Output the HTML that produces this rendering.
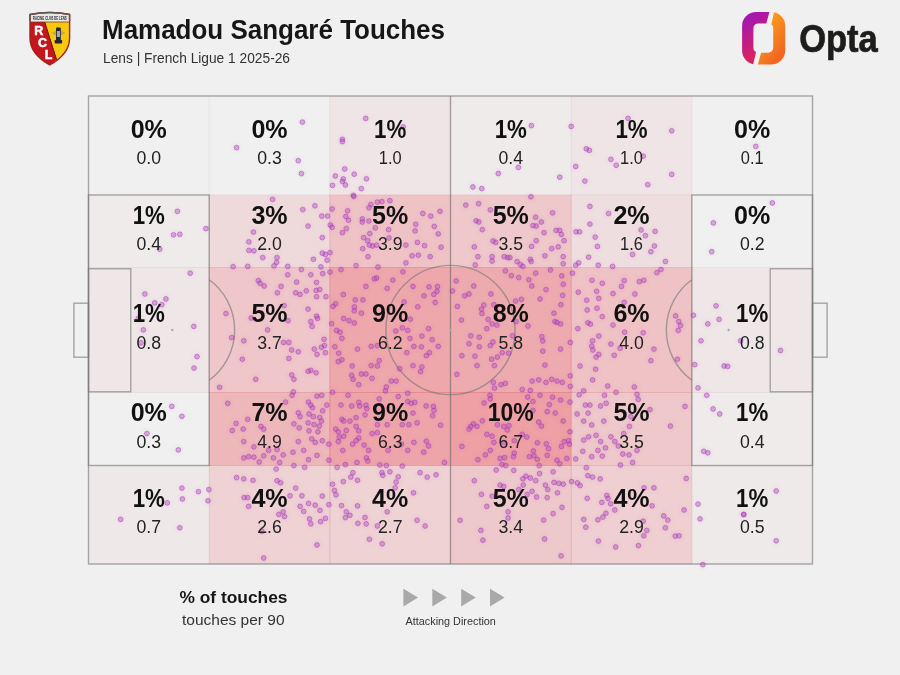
<!DOCTYPE html>
<html lang="en"><head><meta charset="utf-8"><title>Mamadou Sangaré Touches</title>
<style>
html,body{margin:0;padding:0;background:#f0f0f0;}
body{width:900px;height:675px;overflow:hidden;font-family:"Liberation Sans",sans-serif;}
svg{display:block}
text{font-family:"Liberation Sans",sans-serif;}
.pct{font-weight:700;font-size:25.5px;fill:#111;text-anchor:middle}
.val{font-size:17.5px;fill:#222;text-anchor:middle}
.ln{fill:none;stroke:rgba(120,120,120,0.62);stroke-width:1.4}
.d{fill:rgba(186,68,196,0.38);stroke:rgba(155,55,172,0.46);stroke-width:1}
</style></head><body>
<svg width="900" height="675" viewBox="0 0 900 675">
<rect width="900" height="675" fill="#f0f0f0"/>

<g id="cells">
<rect x="88.2" y="95.7" width="121.3" height="99.6" fill="none"/>
<rect x="208.9" y="95.7" width="121.3" height="99.6" fill="none"/>
<rect x="329.5" y="95.7" width="121.3" height="99.6" fill="rgba(236,80,90,0.068)"/>
<rect x="450.2" y="95.7" width="121.3" height="99.6" fill="rgba(236,80,90,0.031)"/>
<rect x="570.9" y="95.7" width="121.3" height="99.6" fill="rgba(236,80,90,0.068)"/>
<rect x="691.5" y="95.7" width="121.3" height="99.6" fill="none"/>
<rect x="88.2" y="194.7" width="121.3" height="73.1" fill="rgba(236,80,90,0.031)"/>
<rect x="208.9" y="194.7" width="121.3" height="73.1" fill="rgba(236,80,90,0.137)"/>
<rect x="329.5" y="194.7" width="121.3" height="73.1" fill="rgba(236,80,90,0.277)"/>
<rect x="450.2" y="194.7" width="121.3" height="73.1" fill="rgba(236,80,90,0.247)"/>
<rect x="570.9" y="194.7" width="121.3" height="73.1" fill="rgba(236,80,90,0.109)"/>
<rect x="691.5" y="194.7" width="121.3" height="73.1" fill="none"/>
<rect x="88.2" y="267.2" width="121.3" height="125.6" fill="rgba(236,80,90,0.055)"/>
<rect x="208.9" y="267.2" width="121.3" height="125.6" fill="rgba(236,80,90,0.262)"/>
<rect x="329.5" y="267.2" width="121.3" height="125.6" fill="rgba(236,80,90,0.459)"/>
<rect x="450.2" y="267.2" width="121.3" height="125.6" fill="rgba(236,80,90,0.427)"/>
<rect x="570.9" y="267.2" width="121.3" height="125.6" fill="rgba(236,80,90,0.285)"/>
<rect x="691.5" y="267.2" width="121.3" height="125.6" fill="rgba(236,80,90,0.055)"/>
<rect x="88.2" y="392.2" width="121.3" height="73.6" fill="none"/>
<rect x="208.9" y="392.2" width="121.3" height="73.6" fill="rgba(236,80,90,0.355)"/>
<rect x="329.5" y="392.2" width="121.3" height="73.6" fill="rgba(236,80,90,0.467)"/>
<rect x="450.2" y="392.2" width="121.3" height="73.6" fill="rgba(236,80,90,0.500)"/>
<rect x="570.9" y="392.2" width="121.3" height="73.6" fill="rgba(236,80,90,0.247)"/>
<rect x="691.5" y="392.2" width="121.3" height="73.6" fill="rgba(236,80,90,0.031)"/>
<rect x="88.2" y="465.2" width="121.3" height="99.1" fill="rgba(236,80,90,0.049)"/>
<rect x="208.9" y="465.2" width="121.3" height="99.1" fill="rgba(236,80,90,0.180)"/>
<rect x="329.5" y="465.2" width="121.3" height="99.1" fill="rgba(236,80,90,0.187)"/>
<rect x="450.2" y="465.2" width="121.3" height="99.1" fill="rgba(236,80,90,0.239)"/>
<rect x="570.9" y="465.2" width="121.3" height="99.1" fill="rgba(236,80,90,0.202)"/>
<rect x="691.5" y="465.2" width="121.3" height="99.1" fill="rgba(236,80,90,0.037)"/>
</g>
<g stroke="rgba(110,70,80,0.05)" stroke-width="1.2">
<line x1="209.2" y1="96.0" x2="209.2" y2="564.0"/>
<line x1="329.8" y1="96.0" x2="329.8" y2="564.0"/>
<line x1="450.5" y1="96.0" x2="450.5" y2="564.0"/>
<line x1="571.2" y1="96.0" x2="571.2" y2="564.0"/>
<line x1="691.8" y1="96.0" x2="691.8" y2="564.0"/>
<line x1="88.5" y1="195.0" x2="812.5" y2="195.0"/>
<line x1="88.5" y1="267.5" x2="812.5" y2="267.5"/>
<line x1="88.5" y1="392.5" x2="812.5" y2="392.5"/>
<line x1="88.5" y1="465.5" x2="812.5" y2="465.5"/>
</g>
<g class="ln">
<rect x="88.5" y="96.0" width="724.0" height="468.0"/>
<line x1="450.5" y1="96.0" x2="450.5" y2="564.0"/>
<circle cx="450.5" cy="330.0" r="64.6"/>
<rect x="88.5" y="195.0" width="120.7" height="270.5"/>
<rect x="88.5" y="268.7" width="42.3" height="123.1"/>
<rect x="73.9" y="303.2" width="14.6" height="54"/>
<path d="M209.2 279.7 A62.4 62.4 0 0 1 209.2 380.3"/>
<rect x="691.8" y="195.0" width="120.7" height="270.5"/>
<rect x="770.2" y="268.7" width="42.3" height="123.1"/>
<rect x="812.5" y="303.2" width="14.6" height="54"/>
<path d="M691.8 279.7 A62.4 62.4 0 0 0 691.8 380.3"/>
</g>
<circle cx="172.3" cy="330.0" r="1.2" fill="#aaa"/><circle cx="728.7" cy="330.0" r="1.2" fill="#aaa"/><circle cx="450.5" cy="330.0" r="1.2" fill="#aaa"/>
<defs><filter id="bl" x="-5%" y="-5%" width="110%" height="110%"><feGaussianBlur stdDeviation="2.2"/></filter></defs>
<use href="#dots" filter="url(#bl)" opacity="0.35"/>
<g class="d" id="dots">
<circle cx="236.6" cy="147.7" r="2.4"/>
<circle cx="177.4" cy="211.3" r="2.4"/>
<circle cx="302.4" cy="122.1" r="2.4"/>
<circle cx="298.3" cy="160.7" r="2.4"/>
<circle cx="301.4" cy="173.6" r="2.4"/>
<circle cx="365.7" cy="118.4" r="2.4"/>
<circle cx="342.4" cy="139.3" r="2.4"/>
<circle cx="342.4" cy="141.6" r="2.4"/>
<circle cx="344.7" cy="169.0" r="2.4"/>
<circle cx="354.2" cy="174.2" r="2.4"/>
<circle cx="335.3" cy="176.0" r="2.4"/>
<circle cx="366.4" cy="178.8" r="2.4"/>
<circle cx="343.3" cy="179.0" r="2.4"/>
<circle cx="342.4" cy="181.5" r="2.4"/>
<circle cx="345.4" cy="185.0" r="2.4"/>
<circle cx="332.5" cy="185.4" r="2.4"/>
<circle cx="361.3" cy="188.6" r="2.4"/>
<circle cx="353.4" cy="195.3" r="2.4"/>
<circle cx="353.8" cy="196.4" r="2.4"/>
<circle cx="272.6" cy="199.4" r="2.4"/>
<circle cx="314.9" cy="205.8" r="2.4"/>
<circle cx="302.8" cy="209.6" r="2.4"/>
<circle cx="332.1" cy="209.0" r="2.4"/>
<circle cx="347.6" cy="210.8" r="2.4"/>
<circle cx="389.9" cy="200.7" r="2.4"/>
<circle cx="381.9" cy="201.6" r="2.4"/>
<circle cx="377.4" cy="202.1" r="2.4"/>
<circle cx="370.9" cy="204.6" r="2.4"/>
<circle cx="368.9" cy="207.8" r="2.4"/>
<circle cx="403.2" cy="126.9" r="2.4"/>
<circle cx="531.4" cy="125.6" r="2.4"/>
<circle cx="518.4" cy="167.4" r="2.4"/>
<circle cx="498.3" cy="173.5" r="2.4"/>
<circle cx="559.8" cy="177.2" r="2.4"/>
<circle cx="472.9" cy="187.0" r="2.4"/>
<circle cx="481.8" cy="188.6" r="2.4"/>
<circle cx="530.9" cy="196.8" r="2.4"/>
<circle cx="465.8" cy="205.1" r="2.4"/>
<circle cx="478.6" cy="203.7" r="2.4"/>
<circle cx="490.3" cy="209.9" r="2.4"/>
<circle cx="440.0" cy="211.3" r="2.4"/>
<circle cx="422.8" cy="213.5" r="2.4"/>
<circle cx="552.6" cy="212.8" r="2.4"/>
<circle cx="571.2" cy="126.4" r="2.4"/>
<circle cx="628.1" cy="118.4" r="2.4"/>
<circle cx="671.7" cy="130.8" r="2.4"/>
<circle cx="586.3" cy="148.8" r="2.4"/>
<circle cx="589.4" cy="150.4" r="2.4"/>
<circle cx="643.2" cy="156.2" r="2.4"/>
<circle cx="610.9" cy="159.4" r="2.4"/>
<circle cx="616.2" cy="165.3" r="2.4"/>
<circle cx="575.7" cy="166.5" r="2.4"/>
<circle cx="671.7" cy="174.4" r="2.4"/>
<circle cx="584.9" cy="181.1" r="2.4"/>
<circle cx="647.8" cy="184.7" r="2.4"/>
<circle cx="589.9" cy="206.4" r="2.4"/>
<circle cx="608.6" cy="213.5" r="2.4"/>
<circle cx="755.8" cy="146.4" r="2.4"/>
<circle cx="772.3" cy="203.0" r="2.4"/>
<circle cx="205.9" cy="228.6" r="2.4"/>
<circle cx="173.5" cy="234.8" r="2.4"/>
<circle cx="179.8" cy="234.3" r="2.4"/>
<circle cx="159.7" cy="249.2" r="2.4"/>
<circle cx="233.1" cy="266.6" r="2.4"/>
<circle cx="190.2" cy="273.2" r="2.4"/>
<circle cx="144.9" cy="294.0" r="2.4"/>
<circle cx="165.9" cy="299.0" r="2.4"/>
<circle cx="154.7" cy="302.9" r="2.4"/>
<circle cx="161.8" cy="304.7" r="2.4"/>
<circle cx="226.0" cy="313.6" r="2.4"/>
<circle cx="193.8" cy="326.4" r="2.4"/>
<circle cx="143.3" cy="329.9" r="2.4"/>
<circle cx="138.3" cy="318.5" r="2.4"/>
<circle cx="321.8" cy="216.1" r="2.4"/>
<circle cx="327.5" cy="216.1" r="2.4"/>
<circle cx="345.8" cy="216.5" r="2.4"/>
<circle cx="348.5" cy="220.2" r="2.4"/>
<circle cx="362.3" cy="219.0" r="2.4"/>
<circle cx="362.3" cy="222.0" r="2.4"/>
<circle cx="368.9" cy="221.1" r="2.4"/>
<circle cx="308.1" cy="226.1" r="2.4"/>
<circle cx="330.3" cy="225.0" r="2.4"/>
<circle cx="332.1" cy="227.3" r="2.4"/>
<circle cx="346.3" cy="228.6" r="2.4"/>
<circle cx="342.4" cy="232.7" r="2.4"/>
<circle cx="375.3" cy="227.9" r="2.4"/>
<circle cx="388.6" cy="229.6" r="2.4"/>
<circle cx="253.4" cy="232.1" r="2.4"/>
<circle cx="369.8" cy="233.6" r="2.4"/>
<circle cx="322.3" cy="237.6" r="2.4"/>
<circle cx="363.6" cy="237.6" r="2.4"/>
<circle cx="367.7" cy="240.7" r="2.4"/>
<circle cx="389.0" cy="238.0" r="2.4"/>
<circle cx="248.9" cy="241.9" r="2.4"/>
<circle cx="369.4" cy="245.1" r="2.4"/>
<circle cx="372.6" cy="246.0" r="2.4"/>
<circle cx="376.6" cy="245.1" r="2.4"/>
<circle cx="362.7" cy="248.7" r="2.4"/>
<circle cx="248.9" cy="250.4" r="2.4"/>
<circle cx="253.9" cy="250.8" r="2.4"/>
<circle cx="322.3" cy="253.1" r="2.4"/>
<circle cx="325.4" cy="254.5" r="2.4"/>
<circle cx="330.0" cy="252.6" r="2.4"/>
<circle cx="262.8" cy="257.6" r="2.4"/>
<circle cx="277.0" cy="257.6" r="2.4"/>
<circle cx="313.4" cy="259.3" r="2.4"/>
<circle cx="327.1" cy="260.2" r="2.4"/>
<circle cx="368.0" cy="256.7" r="2.4"/>
<circle cx="276.6" cy="262.4" r="2.4"/>
<circle cx="274.0" cy="265.9" r="2.4"/>
<circle cx="247.7" cy="266.4" r="2.4"/>
<circle cx="287.7" cy="266.4" r="2.4"/>
<circle cx="356.1" cy="265.6" r="2.4"/>
<circle cx="378.0" cy="267.0" r="2.4"/>
<circle cx="320.9" cy="266.8" r="2.4"/>
<circle cx="301.4" cy="269.5" r="2.4"/>
<circle cx="330.0" cy="272.1" r="2.4"/>
<circle cx="341.0" cy="269.6" r="2.4"/>
<circle cx="322.7" cy="273.6" r="2.4"/>
<circle cx="287.7" cy="274.8" r="2.4"/>
<circle cx="310.8" cy="274.8" r="2.4"/>
<circle cx="402.9" cy="271.8" r="2.4"/>
<circle cx="258.3" cy="280.7" r="2.4"/>
<circle cx="260.1" cy="283.3" r="2.4"/>
<circle cx="264.2" cy="286.0" r="2.4"/>
<circle cx="296.6" cy="282.1" r="2.4"/>
<circle cx="316.5" cy="282.4" r="2.4"/>
<circle cx="376.6" cy="278.0" r="2.4"/>
<circle cx="374.4" cy="278.9" r="2.4"/>
<circle cx="392.9" cy="280.1" r="2.4"/>
<circle cx="281.1" cy="286.4" r="2.4"/>
<circle cx="365.9" cy="286.4" r="2.4"/>
<circle cx="387.2" cy="288.3" r="2.4"/>
<circle cx="306.3" cy="290.8" r="2.4"/>
<circle cx="277.4" cy="292.8" r="2.4"/>
<circle cx="295.7" cy="292.8" r="2.4"/>
<circle cx="300.1" cy="294.4" r="2.4"/>
<circle cx="316.1" cy="290.4" r="2.4"/>
<circle cx="319.7" cy="289.6" r="2.4"/>
<circle cx="316.6" cy="296.7" r="2.4"/>
<circle cx="325.9" cy="296.7" r="2.4"/>
<circle cx="343.3" cy="294.5" r="2.4"/>
<circle cx="355.2" cy="299.9" r="2.4"/>
<circle cx="362.9" cy="299.9" r="2.4"/>
<circle cx="335.7" cy="303.8" r="2.4"/>
<circle cx="333.0" cy="306.4" r="2.4"/>
<circle cx="354.3" cy="307.0" r="2.4"/>
<circle cx="354.3" cy="310.9" r="2.4"/>
<circle cx="308.1" cy="309.1" r="2.4"/>
<circle cx="361.4" cy="313.2" r="2.4"/>
<circle cx="404.1" cy="302.0" r="2.4"/>
<circle cx="316.6" cy="316.2" r="2.4"/>
<circle cx="317.5" cy="318.4" r="2.4"/>
<circle cx="343.7" cy="318.5" r="2.4"/>
<circle cx="349.0" cy="320.7" r="2.4"/>
<circle cx="354.3" cy="323.0" r="2.4"/>
<circle cx="310.8" cy="321.6" r="2.4"/>
<circle cx="312.2" cy="326.4" r="2.4"/>
<circle cx="331.6" cy="323.7" r="2.4"/>
<circle cx="288.0" cy="320.7" r="2.4"/>
<circle cx="251.2" cy="318.0" r="2.4"/>
<circle cx="267.6" cy="329.9" r="2.4"/>
<circle cx="336.6" cy="330.4" r="2.4"/>
<circle cx="340.1" cy="332.2" r="2.4"/>
<circle cx="395.8" cy="331.0" r="2.4"/>
<circle cx="402.3" cy="327.8" r="2.4"/>
<circle cx="284.1" cy="305.6" r="2.4"/>
<circle cx="430.8" cy="216.1" r="2.4"/>
<circle cx="535.7" cy="217.2" r="2.4"/>
<circle cx="476.1" cy="220.8" r="2.4"/>
<circle cx="478.8" cy="222.0" r="2.4"/>
<circle cx="541.4" cy="222.0" r="2.4"/>
<circle cx="415.7" cy="224.3" r="2.4"/>
<circle cx="434.3" cy="226.4" r="2.4"/>
<circle cx="533.0" cy="225.6" r="2.4"/>
<circle cx="536.2" cy="226.1" r="2.4"/>
<circle cx="415.1" cy="230.9" r="2.4"/>
<circle cx="482.3" cy="229.6" r="2.4"/>
<circle cx="438.2" cy="233.9" r="2.4"/>
<circle cx="544.0" cy="232.7" r="2.4"/>
<circle cx="556.1" cy="230.4" r="2.4"/>
<circle cx="559.7" cy="230.4" r="2.4"/>
<circle cx="561.4" cy="234.4" r="2.4"/>
<circle cx="417.4" cy="242.4" r="2.4"/>
<circle cx="493.0" cy="241.0" r="2.4"/>
<circle cx="495.7" cy="242.4" r="2.4"/>
<circle cx="536.2" cy="240.7" r="2.4"/>
<circle cx="564.1" cy="240.7" r="2.4"/>
<circle cx="405.9" cy="245.1" r="2.4"/>
<circle cx="424.6" cy="245.6" r="2.4"/>
<circle cx="474.3" cy="246.9" r="2.4"/>
<circle cx="441.1" cy="247.2" r="2.4"/>
<circle cx="531.6" cy="246.4" r="2.4"/>
<circle cx="551.7" cy="248.7" r="2.4"/>
<circle cx="558.2" cy="246.9" r="2.4"/>
<circle cx="412.1" cy="255.8" r="2.4"/>
<circle cx="418.3" cy="255.2" r="2.4"/>
<circle cx="430.2" cy="256.7" r="2.4"/>
<circle cx="477.9" cy="256.7" r="2.4"/>
<circle cx="492.1" cy="256.7" r="2.4"/>
<circle cx="492.1" cy="261.1" r="2.4"/>
<circle cx="504.2" cy="256.7" r="2.4"/>
<circle cx="507.8" cy="257.6" r="2.4"/>
<circle cx="509.9" cy="257.6" r="2.4"/>
<circle cx="544.9" cy="255.8" r="2.4"/>
<circle cx="530.3" cy="259.3" r="2.4"/>
<circle cx="531.2" cy="261.6" r="2.4"/>
<circle cx="517.0" cy="261.6" r="2.4"/>
<circle cx="520.6" cy="264.7" r="2.4"/>
<circle cx="522.9" cy="266.4" r="2.4"/>
<circle cx="563.2" cy="256.7" r="2.4"/>
<circle cx="563.2" cy="263.8" r="2.4"/>
<circle cx="475.2" cy="265.0" r="2.4"/>
<circle cx="405.9" cy="262.9" r="2.4"/>
<circle cx="505.4" cy="270.9" r="2.4"/>
<circle cx="511.3" cy="275.7" r="2.4"/>
<circle cx="518.8" cy="277.6" r="2.4"/>
<circle cx="535.7" cy="273.2" r="2.4"/>
<circle cx="550.4" cy="270.0" r="2.4"/>
<circle cx="561.8" cy="275.9" r="2.4"/>
<circle cx="528.9" cy="279.8" r="2.4"/>
<circle cx="531.8" cy="286.0" r="2.4"/>
<circle cx="456.2" cy="281.0" r="2.4"/>
<circle cx="473.8" cy="286.0" r="2.4"/>
<circle cx="413.0" cy="286.5" r="2.4"/>
<circle cx="429.0" cy="286.9" r="2.4"/>
<circle cx="437.5" cy="286.5" r="2.4"/>
<circle cx="437.0" cy="291.3" r="2.4"/>
<circle cx="433.8" cy="294.4" r="2.4"/>
<circle cx="424.0" cy="295.8" r="2.4"/>
<circle cx="452.6" cy="291.0" r="2.4"/>
<circle cx="469.0" cy="294.0" r="2.4"/>
<circle cx="464.6" cy="295.8" r="2.4"/>
<circle cx="490.9" cy="294.0" r="2.4"/>
<circle cx="546.0" cy="289.6" r="2.4"/>
<circle cx="563.2" cy="284.2" r="2.4"/>
<circle cx="562.7" cy="295.4" r="2.4"/>
<circle cx="540.1" cy="299.0" r="2.4"/>
<circle cx="521.4" cy="299.3" r="2.4"/>
<circle cx="515.6" cy="301.1" r="2.4"/>
<circle cx="435.2" cy="302.5" r="2.4"/>
<circle cx="417.8" cy="306.8" r="2.4"/>
<circle cx="457.4" cy="306.4" r="2.4"/>
<circle cx="483.8" cy="305.0" r="2.4"/>
<circle cx="481.4" cy="309.1" r="2.4"/>
<circle cx="482.0" cy="313.6" r="2.4"/>
<circle cx="493.9" cy="304.7" r="2.4"/>
<circle cx="560.9" cy="304.7" r="2.4"/>
<circle cx="554.0" cy="313.2" r="2.4"/>
<circle cx="554.9" cy="321.6" r="2.4"/>
<circle cx="557.0" cy="322.4" r="2.4"/>
<circle cx="560.6" cy="323.9" r="2.4"/>
<circle cx="410.3" cy="319.2" r="2.4"/>
<circle cx="461.4" cy="320.1" r="2.4"/>
<circle cx="488.2" cy="319.4" r="2.4"/>
<circle cx="492.1" cy="323.9" r="2.4"/>
<circle cx="496.9" cy="325.1" r="2.4"/>
<circle cx="486.8" cy="328.7" r="2.4"/>
<circle cx="428.6" cy="328.7" r="2.4"/>
<circle cx="528.0" cy="326.0" r="2.4"/>
<circle cx="516.1" cy="321.6" r="2.4"/>
<circle cx="407.7" cy="330.4" r="2.4"/>
<circle cx="589.9" cy="224.1" r="2.4"/>
<circle cx="713.4" cy="222.9" r="2.4"/>
<circle cx="576.0" cy="231.8" r="2.4"/>
<circle cx="579.6" cy="231.8" r="2.4"/>
<circle cx="641.1" cy="230.0" r="2.4"/>
<circle cx="655.1" cy="231.4" r="2.4"/>
<circle cx="595.2" cy="237.1" r="2.4"/>
<circle cx="645.4" cy="235.7" r="2.4"/>
<circle cx="597.4" cy="246.5" r="2.4"/>
<circle cx="654.4" cy="246.0" r="2.4"/>
<circle cx="650.9" cy="251.7" r="2.4"/>
<circle cx="711.7" cy="251.7" r="2.4"/>
<circle cx="632.6" cy="254.5" r="2.4"/>
<circle cx="588.6" cy="257.2" r="2.4"/>
<circle cx="665.4" cy="261.5" r="2.4"/>
<circle cx="578.7" cy="262.9" r="2.4"/>
<circle cx="575.7" cy="265.2" r="2.4"/>
<circle cx="598.2" cy="265.2" r="2.4"/>
<circle cx="612.6" cy="266.4" r="2.4"/>
<circle cx="572.5" cy="273.2" r="2.4"/>
<circle cx="661.0" cy="269.5" r="2.4"/>
<circle cx="656.9" cy="272.7" r="2.4"/>
<circle cx="592.0" cy="280.3" r="2.4"/>
<circle cx="602.3" cy="283.3" r="2.4"/>
<circle cx="624.2" cy="280.7" r="2.4"/>
<circle cx="621.5" cy="286.4" r="2.4"/>
<circle cx="639.3" cy="281.6" r="2.4"/>
<circle cx="643.8" cy="280.3" r="2.4"/>
<circle cx="578.3" cy="292.2" r="2.4"/>
<circle cx="596.6" cy="291.3" r="2.4"/>
<circle cx="613.0" cy="293.6" r="2.4"/>
<circle cx="634.9" cy="294.0" r="2.4"/>
<circle cx="598.8" cy="298.4" r="2.4"/>
<circle cx="586.7" cy="300.2" r="2.4"/>
<circle cx="624.2" cy="302.4" r="2.4"/>
<circle cx="597.0" cy="308.2" r="2.4"/>
<circle cx="587.2" cy="310.0" r="2.4"/>
<circle cx="602.3" cy="316.6" r="2.4"/>
<circle cx="716.1" cy="305.9" r="2.4"/>
<circle cx="675.6" cy="315.9" r="2.4"/>
<circle cx="693.4" cy="315.3" r="2.4"/>
<circle cx="678.8" cy="321.6" r="2.4"/>
<circle cx="680.6" cy="325.6" r="2.4"/>
<circle cx="678.2" cy="330.4" r="2.4"/>
<circle cx="719.1" cy="319.4" r="2.4"/>
<circle cx="707.8" cy="323.9" r="2.4"/>
<circle cx="587.8" cy="322.8" r="2.4"/>
<circle cx="590.4" cy="324.2" r="2.4"/>
<circle cx="613.0" cy="325.1" r="2.4"/>
<circle cx="577.8" cy="328.7" r="2.4"/>
<circle cx="624.6" cy="332.2" r="2.4"/>
<circle cx="643.2" cy="332.8" r="2.4"/>
<circle cx="231.7" cy="337.6" r="2.4"/>
<circle cx="243.8" cy="340.8" r="2.4"/>
<circle cx="141.0" cy="342.9" r="2.4"/>
<circle cx="197.0" cy="356.6" r="2.4"/>
<circle cx="194.0" cy="368.1" r="2.4"/>
<circle cx="242.3" cy="359.2" r="2.4"/>
<circle cx="219.6" cy="387.3" r="2.4"/>
<circle cx="227.8" cy="403.3" r="2.4"/>
<circle cx="171.8" cy="406.4" r="2.4"/>
<circle cx="181.9" cy="416.3" r="2.4"/>
<circle cx="236.1" cy="423.4" r="2.4"/>
<circle cx="232.2" cy="430.5" r="2.4"/>
<circle cx="243.2" cy="429.1" r="2.4"/>
<circle cx="146.9" cy="433.6" r="2.4"/>
<circle cx="178.3" cy="449.9" r="2.4"/>
<circle cx="243.8" cy="441.6" r="2.4"/>
<circle cx="283.6" cy="342.5" r="2.4"/>
<circle cx="288.9" cy="342.5" r="2.4"/>
<circle cx="324.1" cy="339.3" r="2.4"/>
<circle cx="324.5" cy="345.6" r="2.4"/>
<circle cx="321.4" cy="347.3" r="2.4"/>
<circle cx="314.3" cy="349.1" r="2.4"/>
<circle cx="291.6" cy="350.0" r="2.4"/>
<circle cx="298.3" cy="351.8" r="2.4"/>
<circle cx="317.0" cy="354.4" r="2.4"/>
<circle cx="325.4" cy="352.7" r="2.4"/>
<circle cx="288.9" cy="358.4" r="2.4"/>
<circle cx="308.1" cy="371.3" r="2.4"/>
<circle cx="310.8" cy="370.4" r="2.4"/>
<circle cx="316.1" cy="372.8" r="2.4"/>
<circle cx="291.8" cy="374.9" r="2.4"/>
<circle cx="293.9" cy="379.3" r="2.4"/>
<circle cx="255.7" cy="379.3" r="2.4"/>
<circle cx="293.4" cy="391.8" r="2.4"/>
<circle cx="292.1" cy="395.3" r="2.4"/>
<circle cx="341.9" cy="338.4" r="2.4"/>
<circle cx="334.8" cy="346.8" r="2.4"/>
<circle cx="357.5" cy="349.1" r="2.4"/>
<circle cx="371.2" cy="346.4" r="2.4"/>
<circle cx="377.4" cy="345.6" r="2.4"/>
<circle cx="338.7" cy="353.2" r="2.4"/>
<circle cx="341.9" cy="359.8" r="2.4"/>
<circle cx="338.3" cy="361.6" r="2.4"/>
<circle cx="379.2" cy="360.7" r="2.4"/>
<circle cx="371.2" cy="365.6" r="2.4"/>
<circle cx="377.4" cy="366.0" r="2.4"/>
<circle cx="352.2" cy="366.0" r="2.4"/>
<circle cx="399.7" cy="368.7" r="2.4"/>
<circle cx="351.7" cy="375.2" r="2.4"/>
<circle cx="353.1" cy="379.3" r="2.4"/>
<circle cx="361.4" cy="374.0" r="2.4"/>
<circle cx="365.9" cy="374.0" r="2.4"/>
<circle cx="372.1" cy="378.4" r="2.4"/>
<circle cx="358.8" cy="384.7" r="2.4"/>
<circle cx="391.3" cy="381.1" r="2.4"/>
<circle cx="396.1" cy="381.1" r="2.4"/>
<circle cx="386.3" cy="387.0" r="2.4"/>
<circle cx="385.4" cy="390.9" r="2.4"/>
<circle cx="332.6" cy="392.3" r="2.4"/>
<circle cx="285.5" cy="402.1" r="2.4"/>
<circle cx="317.0" cy="396.2" r="2.4"/>
<circle cx="321.8" cy="395.3" r="2.4"/>
<circle cx="308.5" cy="402.1" r="2.4"/>
<circle cx="310.8" cy="405.1" r="2.4"/>
<circle cx="312.6" cy="407.8" r="2.4"/>
<circle cx="326.8" cy="405.1" r="2.4"/>
<circle cx="322.7" cy="410.8" r="2.4"/>
<circle cx="298.3" cy="412.8" r="2.4"/>
<circle cx="300.1" cy="416.7" r="2.4"/>
<circle cx="309.0" cy="414.0" r="2.4"/>
<circle cx="313.4" cy="416.7" r="2.4"/>
<circle cx="319.7" cy="417.6" r="2.4"/>
<circle cx="321.4" cy="421.1" r="2.4"/>
<circle cx="293.9" cy="423.8" r="2.4"/>
<circle cx="308.1" cy="422.9" r="2.4"/>
<circle cx="314.0" cy="424.7" r="2.4"/>
<circle cx="319.3" cy="426.1" r="2.4"/>
<circle cx="299.2" cy="427.9" r="2.4"/>
<circle cx="309.0" cy="430.9" r="2.4"/>
<circle cx="317.9" cy="431.8" r="2.4"/>
<circle cx="261.0" cy="426.4" r="2.4"/>
<circle cx="263.7" cy="429.1" r="2.4"/>
<circle cx="311.7" cy="438.9" r="2.4"/>
<circle cx="315.2" cy="442.4" r="2.4"/>
<circle cx="322.3" cy="440.7" r="2.4"/>
<circle cx="298.3" cy="441.6" r="2.4"/>
<circle cx="328.9" cy="444.2" r="2.4"/>
<circle cx="253.9" cy="446.9" r="2.4"/>
<circle cx="268.6" cy="450.4" r="2.4"/>
<circle cx="277.0" cy="449.6" r="2.4"/>
<circle cx="293.0" cy="452.2" r="2.4"/>
<circle cx="303.7" cy="450.4" r="2.4"/>
<circle cx="247.7" cy="419.3" r="2.4"/>
<circle cx="348.1" cy="395.3" r="2.4"/>
<circle cx="341.0" cy="405.1" r="2.4"/>
<circle cx="351.7" cy="406.0" r="2.4"/>
<circle cx="358.8" cy="402.4" r="2.4"/>
<circle cx="359.7" cy="406.0" r="2.4"/>
<circle cx="365.9" cy="405.1" r="2.4"/>
<circle cx="366.8" cy="408.7" r="2.4"/>
<circle cx="379.2" cy="398.9" r="2.4"/>
<circle cx="398.2" cy="396.6" r="2.4"/>
<circle cx="341.9" cy="419.3" r="2.4"/>
<circle cx="343.7" cy="421.1" r="2.4"/>
<circle cx="349.9" cy="421.1" r="2.4"/>
<circle cx="356.1" cy="417.6" r="2.4"/>
<circle cx="365.0" cy="414.9" r="2.4"/>
<circle cx="335.7" cy="429.1" r="2.4"/>
<circle cx="338.3" cy="431.8" r="2.4"/>
<circle cx="346.3" cy="430.5" r="2.4"/>
<circle cx="356.1" cy="426.4" r="2.4"/>
<circle cx="358.8" cy="430.9" r="2.4"/>
<circle cx="339.2" cy="437.1" r="2.4"/>
<circle cx="343.7" cy="436.2" r="2.4"/>
<circle cx="358.8" cy="438.0" r="2.4"/>
<circle cx="356.1" cy="440.7" r="2.4"/>
<circle cx="338.3" cy="441.6" r="2.4"/>
<circle cx="352.6" cy="444.2" r="2.4"/>
<circle cx="364.1" cy="445.1" r="2.4"/>
<circle cx="372.1" cy="433.6" r="2.4"/>
<circle cx="377.4" cy="432.7" r="2.4"/>
<circle cx="377.4" cy="424.7" r="2.4"/>
<circle cx="387.2" cy="424.7" r="2.4"/>
<circle cx="402.3" cy="424.7" r="2.4"/>
<circle cx="342.8" cy="450.4" r="2.4"/>
<circle cx="368.6" cy="450.4" r="2.4"/>
<circle cx="388.1" cy="450.4" r="2.4"/>
<circle cx="401.4" cy="444.2" r="2.4"/>
<circle cx="410.0" cy="338.4" r="2.4"/>
<circle cx="421.9" cy="336.1" r="2.4"/>
<circle cx="432.2" cy="339.7" r="2.4"/>
<circle cx="413.9" cy="346.4" r="2.4"/>
<circle cx="421.4" cy="346.8" r="2.4"/>
<circle cx="438.2" cy="346.4" r="2.4"/>
<circle cx="406.8" cy="352.7" r="2.4"/>
<circle cx="429.4" cy="352.7" r="2.4"/>
<circle cx="426.3" cy="355.7" r="2.4"/>
<circle cx="413.0" cy="365.6" r="2.4"/>
<circle cx="421.9" cy="366.9" r="2.4"/>
<circle cx="420.6" cy="371.7" r="2.4"/>
<circle cx="470.8" cy="335.8" r="2.4"/>
<circle cx="479.3" cy="337.2" r="2.4"/>
<circle cx="469.0" cy="343.8" r="2.4"/>
<circle cx="479.3" cy="346.8" r="2.4"/>
<circle cx="493.0" cy="342.0" r="2.4"/>
<circle cx="490.3" cy="345.6" r="2.4"/>
<circle cx="512.6" cy="335.8" r="2.4"/>
<circle cx="541.9" cy="336.7" r="2.4"/>
<circle cx="542.8" cy="341.1" r="2.4"/>
<circle cx="560.6" cy="349.1" r="2.4"/>
<circle cx="461.9" cy="355.7" r="2.4"/>
<circle cx="474.9" cy="356.2" r="2.4"/>
<circle cx="502.2" cy="352.7" r="2.4"/>
<circle cx="508.6" cy="353.2" r="2.4"/>
<circle cx="497.4" cy="357.1" r="2.4"/>
<circle cx="491.6" cy="359.2" r="2.4"/>
<circle cx="542.8" cy="351.2" r="2.4"/>
<circle cx="477.0" cy="365.6" r="2.4"/>
<circle cx="494.4" cy="365.6" r="2.4"/>
<circle cx="544.9" cy="365.1" r="2.4"/>
<circle cx="456.9" cy="374.4" r="2.4"/>
<circle cx="493.4" cy="382.4" r="2.4"/>
<circle cx="501.0" cy="384.7" r="2.4"/>
<circle cx="505.4" cy="383.4" r="2.4"/>
<circle cx="494.4" cy="388.2" r="2.4"/>
<circle cx="532.1" cy="381.1" r="2.4"/>
<circle cx="538.7" cy="379.9" r="2.4"/>
<circle cx="546.0" cy="382.4" r="2.4"/>
<circle cx="551.7" cy="379.3" r="2.4"/>
<circle cx="557.0" cy="381.1" r="2.4"/>
<circle cx="562.3" cy="382.4" r="2.4"/>
<circle cx="522.3" cy="389.5" r="2.4"/>
<circle cx="530.3" cy="390.5" r="2.4"/>
<circle cx="407.7" cy="393.2" r="2.4"/>
<circle cx="407.7" cy="401.6" r="2.4"/>
<circle cx="411.2" cy="403.3" r="2.4"/>
<circle cx="414.8" cy="402.4" r="2.4"/>
<circle cx="426.0" cy="406.0" r="2.4"/>
<circle cx="433.4" cy="406.4" r="2.4"/>
<circle cx="434.0" cy="410.4" r="2.4"/>
<circle cx="413.0" cy="413.1" r="2.4"/>
<circle cx="432.6" cy="415.8" r="2.4"/>
<circle cx="417.1" cy="422.9" r="2.4"/>
<circle cx="408.9" cy="424.7" r="2.4"/>
<circle cx="440.6" cy="425.2" r="2.4"/>
<circle cx="413.9" cy="442.4" r="2.4"/>
<circle cx="426.3" cy="441.2" r="2.4"/>
<circle cx="428.6" cy="446.0" r="2.4"/>
<circle cx="423.7" cy="452.2" r="2.4"/>
<circle cx="407.7" cy="450.4" r="2.4"/>
<circle cx="490.0" cy="395.3" r="2.4"/>
<circle cx="490.3" cy="398.9" r="2.4"/>
<circle cx="484.1" cy="403.0" r="2.4"/>
<circle cx="540.1" cy="395.3" r="2.4"/>
<circle cx="552.6" cy="397.1" r="2.4"/>
<circle cx="527.7" cy="397.1" r="2.4"/>
<circle cx="533.0" cy="401.6" r="2.4"/>
<circle cx="560.6" cy="400.1" r="2.4"/>
<circle cx="549.4" cy="404.6" r="2.4"/>
<circle cx="547.2" cy="411.7" r="2.4"/>
<circle cx="555.2" cy="413.1" r="2.4"/>
<circle cx="533.0" cy="410.4" r="2.4"/>
<circle cx="482.3" cy="420.8" r="2.4"/>
<circle cx="473.4" cy="423.8" r="2.4"/>
<circle cx="470.8" cy="426.4" r="2.4"/>
<circle cx="477.0" cy="426.4" r="2.4"/>
<circle cx="469.0" cy="429.1" r="2.4"/>
<circle cx="497.4" cy="424.7" r="2.4"/>
<circle cx="503.7" cy="426.4" r="2.4"/>
<circle cx="509.0" cy="425.6" r="2.4"/>
<circle cx="507.2" cy="430.0" r="2.4"/>
<circle cx="538.7" cy="422.0" r="2.4"/>
<circle cx="541.5" cy="426.1" r="2.4"/>
<circle cx="563.2" cy="421.1" r="2.4"/>
<circle cx="486.8" cy="434.4" r="2.4"/>
<circle cx="492.1" cy="436.2" r="2.4"/>
<circle cx="493.9" cy="442.4" r="2.4"/>
<circle cx="503.7" cy="442.4" r="2.4"/>
<circle cx="514.3" cy="440.7" r="2.4"/>
<circle cx="522.3" cy="434.4" r="2.4"/>
<circle cx="526.8" cy="437.1" r="2.4"/>
<circle cx="537.4" cy="442.8" r="2.4"/>
<circle cx="546.3" cy="443.9" r="2.4"/>
<circle cx="548.6" cy="448.7" r="2.4"/>
<circle cx="561.4" cy="446.4" r="2.4"/>
<circle cx="564.1" cy="441.6" r="2.4"/>
<circle cx="461.9" cy="446.4" r="2.4"/>
<circle cx="490.3" cy="450.4" r="2.4"/>
<circle cx="533.4" cy="451.0" r="2.4"/>
<circle cx="514.3" cy="453.1" r="2.4"/>
<circle cx="598.8" cy="336.1" r="2.4"/>
<circle cx="701.0" cy="340.8" r="2.4"/>
<circle cx="570.3" cy="342.5" r="2.4"/>
<circle cx="592.6" cy="340.8" r="2.4"/>
<circle cx="591.7" cy="346.1" r="2.4"/>
<circle cx="592.9" cy="350.0" r="2.4"/>
<circle cx="610.9" cy="344.1" r="2.4"/>
<circle cx="620.1" cy="348.2" r="2.4"/>
<circle cx="653.9" cy="349.1" r="2.4"/>
<circle cx="598.8" cy="354.4" r="2.4"/>
<circle cx="596.1" cy="357.1" r="2.4"/>
<circle cx="614.2" cy="355.3" r="2.4"/>
<circle cx="650.9" cy="360.7" r="2.4"/>
<circle cx="677.4" cy="359.2" r="2.4"/>
<circle cx="694.8" cy="364.6" r="2.4"/>
<circle cx="580.1" cy="366.0" r="2.4"/>
<circle cx="595.6" cy="369.2" r="2.4"/>
<circle cx="724.1" cy="366.0" r="2.4"/>
<circle cx="570.3" cy="375.8" r="2.4"/>
<circle cx="592.6" cy="379.9" r="2.4"/>
<circle cx="570.3" cy="386.4" r="2.4"/>
<circle cx="607.7" cy="386.1" r="2.4"/>
<circle cx="634.3" cy="387.0" r="2.4"/>
<circle cx="698.0" cy="387.9" r="2.4"/>
<circle cx="583.7" cy="390.9" r="2.4"/>
<circle cx="579.2" cy="394.8" r="2.4"/>
<circle cx="604.5" cy="395.3" r="2.4"/>
<circle cx="616.0" cy="392.3" r="2.4"/>
<circle cx="637.0" cy="394.4" r="2.4"/>
<circle cx="706.7" cy="395.3" r="2.4"/>
<circle cx="570.0" cy="402.1" r="2.4"/>
<circle cx="585.4" cy="405.1" r="2.4"/>
<circle cx="589.9" cy="405.1" r="2.4"/>
<circle cx="600.6" cy="406.0" r="2.4"/>
<circle cx="606.2" cy="403.3" r="2.4"/>
<circle cx="638.2" cy="399.4" r="2.4"/>
<circle cx="685.0" cy="406.4" r="2.4"/>
<circle cx="650.0" cy="409.6" r="2.4"/>
<circle cx="713.1" cy="409.0" r="2.4"/>
<circle cx="719.7" cy="414.0" r="2.4"/>
<circle cx="577.1" cy="414.0" r="2.4"/>
<circle cx="588.1" cy="413.1" r="2.4"/>
<circle cx="583.7" cy="421.1" r="2.4"/>
<circle cx="603.8" cy="421.1" r="2.4"/>
<circle cx="591.7" cy="425.0" r="2.4"/>
<circle cx="629.4" cy="426.4" r="2.4"/>
<circle cx="670.4" cy="426.1" r="2.4"/>
<circle cx="570.0" cy="431.8" r="2.4"/>
<circle cx="596.1" cy="435.3" r="2.4"/>
<circle cx="588.6" cy="436.8" r="2.4"/>
<circle cx="610.9" cy="436.8" r="2.4"/>
<circle cx="623.7" cy="433.6" r="2.4"/>
<circle cx="583.7" cy="440.1" r="2.4"/>
<circle cx="600.6" cy="441.6" r="2.4"/>
<circle cx="614.8" cy="441.6" r="2.4"/>
<circle cx="568.6" cy="440.7" r="2.4"/>
<circle cx="569.4" cy="444.2" r="2.4"/>
<circle cx="605.5" cy="447.8" r="2.4"/>
<circle cx="582.8" cy="451.3" r="2.4"/>
<circle cx="597.9" cy="450.4" r="2.4"/>
<circle cx="618.3" cy="446.0" r="2.4"/>
<circle cx="637.0" cy="450.4" r="2.4"/>
<circle cx="703.7" cy="451.3" r="2.4"/>
<circle cx="707.8" cy="452.8" r="2.4"/>
<circle cx="630.8" cy="416.7" r="2.4"/>
<circle cx="780.5" cy="350.5" r="2.4"/>
<circle cx="727.7" cy="366.4" r="2.4"/>
<circle cx="740.6" cy="340.8" r="2.4"/>
<circle cx="243.8" cy="457.9" r="2.4"/>
<circle cx="236.6" cy="477.6" r="2.4"/>
<circle cx="243.8" cy="478.9" r="2.4"/>
<circle cx="181.9" cy="488.1" r="2.4"/>
<circle cx="208.9" cy="489.6" r="2.4"/>
<circle cx="198.4" cy="491.7" r="2.4"/>
<circle cx="182.4" cy="499.0" r="2.4"/>
<circle cx="208.0" cy="500.8" r="2.4"/>
<circle cx="167.3" cy="502.9" r="2.4"/>
<circle cx="120.6" cy="519.4" r="2.4"/>
<circle cx="179.8" cy="527.8" r="2.4"/>
<circle cx="244.1" cy="497.6" r="2.4"/>
<circle cx="248.6" cy="456.7" r="2.4"/>
<circle cx="253.9" cy="457.2" r="2.4"/>
<circle cx="263.7" cy="455.8" r="2.4"/>
<circle cx="273.4" cy="457.9" r="2.4"/>
<circle cx="283.2" cy="454.9" r="2.4"/>
<circle cx="317.0" cy="455.4" r="2.4"/>
<circle cx="259.2" cy="462.0" r="2.4"/>
<circle cx="279.7" cy="462.5" r="2.4"/>
<circle cx="308.5" cy="459.7" r="2.4"/>
<circle cx="328.9" cy="460.2" r="2.4"/>
<circle cx="293.9" cy="465.6" r="2.4"/>
<circle cx="304.6" cy="467.3" r="2.4"/>
<circle cx="276.1" cy="469.1" r="2.4"/>
<circle cx="337.1" cy="467.3" r="2.4"/>
<circle cx="345.4" cy="464.7" r="2.4"/>
<circle cx="357.0" cy="462.5" r="2.4"/>
<circle cx="366.4" cy="457.9" r="2.4"/>
<circle cx="367.7" cy="461.1" r="2.4"/>
<circle cx="379.8" cy="465.0" r="2.4"/>
<circle cx="386.3" cy="465.6" r="2.4"/>
<circle cx="402.3" cy="466.1" r="2.4"/>
<circle cx="253.0" cy="480.3" r="2.4"/>
<circle cx="277.0" cy="480.7" r="2.4"/>
<circle cx="280.6" cy="482.8" r="2.4"/>
<circle cx="352.9" cy="472.7" r="2.4"/>
<circle cx="350.8" cy="477.1" r="2.4"/>
<circle cx="343.3" cy="481.6" r="2.4"/>
<circle cx="357.5" cy="480.3" r="2.4"/>
<circle cx="381.9" cy="472.7" r="2.4"/>
<circle cx="382.8" cy="475.3" r="2.4"/>
<circle cx="389.9" cy="471.8" r="2.4"/>
<circle cx="398.2" cy="476.8" r="2.4"/>
<circle cx="396.1" cy="482.1" r="2.4"/>
<circle cx="332.5" cy="484.2" r="2.4"/>
<circle cx="334.4" cy="490.4" r="2.4"/>
<circle cx="336.0" cy="494.9" r="2.4"/>
<circle cx="295.7" cy="488.1" r="2.4"/>
<circle cx="290.0" cy="495.8" r="2.4"/>
<circle cx="301.9" cy="495.8" r="2.4"/>
<circle cx="322.3" cy="496.1" r="2.4"/>
<circle cx="247.7" cy="497.6" r="2.4"/>
<circle cx="248.6" cy="506.4" r="2.4"/>
<circle cx="308.6" cy="503.4" r="2.4"/>
<circle cx="315.2" cy="505.2" r="2.4"/>
<circle cx="300.1" cy="506.4" r="2.4"/>
<circle cx="328.9" cy="504.7" r="2.4"/>
<circle cx="341.5" cy="505.6" r="2.4"/>
<circle cx="357.5" cy="505.9" r="2.4"/>
<circle cx="320.0" cy="510.4" r="2.4"/>
<circle cx="303.7" cy="511.4" r="2.4"/>
<circle cx="346.3" cy="511.8" r="2.4"/>
<circle cx="349.9" cy="515.3" r="2.4"/>
<circle cx="345.4" cy="517.6" r="2.4"/>
<circle cx="278.8" cy="514.4" r="2.4"/>
<circle cx="284.5" cy="516.6" r="2.4"/>
<circle cx="283.2" cy="511.8" r="2.4"/>
<circle cx="309.5" cy="518.9" r="2.4"/>
<circle cx="310.8" cy="523.9" r="2.4"/>
<circle cx="320.6" cy="521.6" r="2.4"/>
<circle cx="325.4" cy="518.4" r="2.4"/>
<circle cx="365.0" cy="517.5" r="2.4"/>
<circle cx="357.9" cy="523.3" r="2.4"/>
<circle cx="366.2" cy="523.9" r="2.4"/>
<circle cx="377.4" cy="526.0" r="2.4"/>
<circle cx="387.2" cy="511.8" r="2.4"/>
<circle cx="395.2" cy="487.8" r="2.4"/>
<circle cx="369.4" cy="539.3" r="2.4"/>
<circle cx="382.2" cy="543.8" r="2.4"/>
<circle cx="317.0" cy="545.0" r="2.4"/>
<circle cx="263.7" cy="558.0" r="2.4"/>
<circle cx="261.9" cy="531.3" r="2.4"/>
<circle cx="444.5" cy="462.5" r="2.4"/>
<circle cx="477.9" cy="459.7" r="2.4"/>
<circle cx="485.4" cy="454.9" r="2.4"/>
<circle cx="500.1" cy="458.4" r="2.4"/>
<circle cx="504.6" cy="457.6" r="2.4"/>
<circle cx="513.4" cy="456.7" r="2.4"/>
<circle cx="529.4" cy="456.7" r="2.4"/>
<circle cx="533.9" cy="455.8" r="2.4"/>
<circle cx="537.4" cy="459.3" r="2.4"/>
<circle cx="547.2" cy="455.4" r="2.4"/>
<circle cx="557.0" cy="460.2" r="2.4"/>
<circle cx="559.7" cy="463.8" r="2.4"/>
<circle cx="501.9" cy="464.7" r="2.4"/>
<circle cx="505.8" cy="465.6" r="2.4"/>
<circle cx="539.2" cy="465.6" r="2.4"/>
<circle cx="420.1" cy="472.7" r="2.4"/>
<circle cx="427.2" cy="477.1" r="2.4"/>
<circle cx="436.1" cy="474.8" r="2.4"/>
<circle cx="496.2" cy="470.0" r="2.4"/>
<circle cx="513.8" cy="470.4" r="2.4"/>
<circle cx="553.1" cy="471.8" r="2.4"/>
<circle cx="539.6" cy="473.6" r="2.4"/>
<circle cx="525.9" cy="476.2" r="2.4"/>
<circle cx="530.3" cy="478.0" r="2.4"/>
<circle cx="522.9" cy="478.9" r="2.4"/>
<circle cx="535.7" cy="480.7" r="2.4"/>
<circle cx="474.3" cy="480.7" r="2.4"/>
<circle cx="500.1" cy="485.1" r="2.4"/>
<circle cx="503.7" cy="486.5" r="2.4"/>
<circle cx="523.2" cy="485.1" r="2.4"/>
<circle cx="518.8" cy="489.6" r="2.4"/>
<circle cx="545.4" cy="485.1" r="2.4"/>
<circle cx="547.8" cy="489.6" r="2.4"/>
<circle cx="554.0" cy="482.4" r="2.4"/>
<circle cx="558.8" cy="483.3" r="2.4"/>
<circle cx="563.2" cy="484.2" r="2.4"/>
<circle cx="557.4" cy="492.8" r="2.4"/>
<circle cx="532.1" cy="491.3" r="2.4"/>
<circle cx="527.1" cy="494.5" r="2.4"/>
<circle cx="536.6" cy="497.0" r="2.4"/>
<circle cx="547.2" cy="497.6" r="2.4"/>
<circle cx="413.5" cy="492.8" r="2.4"/>
<circle cx="481.4" cy="494.4" r="2.4"/>
<circle cx="492.1" cy="496.1" r="2.4"/>
<circle cx="486.8" cy="506.4" r="2.4"/>
<circle cx="508.1" cy="511.8" r="2.4"/>
<circle cx="508.1" cy="518.0" r="2.4"/>
<circle cx="562.0" cy="507.3" r="2.4"/>
<circle cx="553.1" cy="513.6" r="2.4"/>
<circle cx="543.7" cy="520.1" r="2.4"/>
<circle cx="460.1" cy="520.3" r="2.4"/>
<circle cx="417.1" cy="520.3" r="2.4"/>
<circle cx="425.1" cy="526.0" r="2.4"/>
<circle cx="480.9" cy="530.4" r="2.4"/>
<circle cx="482.9" cy="540.2" r="2.4"/>
<circle cx="544.6" cy="539.0" r="2.4"/>
<circle cx="561.1" cy="555.9" r="2.4"/>
<circle cx="566.8" cy="458.4" r="2.4"/>
<circle cx="575.7" cy="459.0" r="2.4"/>
<circle cx="591.7" cy="456.7" r="2.4"/>
<circle cx="602.3" cy="456.1" r="2.4"/>
<circle cx="622.8" cy="454.0" r="2.4"/>
<circle cx="629.0" cy="454.9" r="2.4"/>
<circle cx="632.6" cy="462.5" r="2.4"/>
<circle cx="620.5" cy="465.0" r="2.4"/>
<circle cx="586.3" cy="467.7" r="2.4"/>
<circle cx="587.8" cy="475.7" r="2.4"/>
<circle cx="592.6" cy="477.1" r="2.4"/>
<circle cx="600.2" cy="478.9" r="2.4"/>
<circle cx="571.6" cy="481.6" r="2.4"/>
<circle cx="577.4" cy="483.0" r="2.4"/>
<circle cx="580.1" cy="485.6" r="2.4"/>
<circle cx="686.2" cy="478.5" r="2.4"/>
<circle cx="644.1" cy="487.8" r="2.4"/>
<circle cx="653.9" cy="487.8" r="2.4"/>
<circle cx="587.2" cy="498.4" r="2.4"/>
<circle cx="606.8" cy="495.4" r="2.4"/>
<circle cx="608.0" cy="498.4" r="2.4"/>
<circle cx="601.8" cy="502.4" r="2.4"/>
<circle cx="610.7" cy="503.8" r="2.4"/>
<circle cx="614.8" cy="510.0" r="2.4"/>
<circle cx="652.1" cy="505.9" r="2.4"/>
<circle cx="605.9" cy="513.2" r="2.4"/>
<circle cx="602.9" cy="517.1" r="2.4"/>
<circle cx="597.9" cy="519.8" r="2.4"/>
<circle cx="583.7" cy="519.4" r="2.4"/>
<circle cx="585.8" cy="527.2" r="2.4"/>
<circle cx="663.7" cy="515.9" r="2.4"/>
<circle cx="667.8" cy="520.1" r="2.4"/>
<circle cx="665.4" cy="527.8" r="2.4"/>
<circle cx="643.2" cy="521.2" r="2.4"/>
<circle cx="646.8" cy="530.4" r="2.4"/>
<circle cx="643.8" cy="535.8" r="2.4"/>
<circle cx="675.2" cy="536.1" r="2.4"/>
<circle cx="679.1" cy="535.8" r="2.4"/>
<circle cx="684.1" cy="510.0" r="2.4"/>
<circle cx="698.0" cy="504.1" r="2.4"/>
<circle cx="700.1" cy="518.9" r="2.4"/>
<circle cx="598.4" cy="541.1" r="2.4"/>
<circle cx="615.7" cy="547.0" r="2.4"/>
<circle cx="638.4" cy="545.6" r="2.4"/>
<circle cx="702.8" cy="564.6" r="2.4"/>
<circle cx="776.2" cy="491.0" r="2.4"/>
<circle cx="743.7" cy="514.4" r="2.4"/>
<circle cx="743.7" cy="514.6" r="2.4"/>
<circle cx="776.2" cy="540.8" r="2.4"/>
</g>
<g id="labels">
<text class="pct" x="148.8" y="137.8" textLength="36.2" lengthAdjust="spacingAndGlyphs">0%</text>
<text class="val" x="148.8" y="164.0" textLength="24.6" lengthAdjust="spacingAndGlyphs">0.0</text>
<text class="pct" x="269.5" y="137.8" textLength="36.2" lengthAdjust="spacingAndGlyphs">0%</text>
<text class="val" x="269.5" y="164.0" textLength="24.6" lengthAdjust="spacingAndGlyphs">0.3</text>
<text class="pct" x="390.2" y="137.8" textLength="32.2" lengthAdjust="spacingAndGlyphs">1%</text>
<text class="val" x="390.2" y="164.0" textLength="22.8" lengthAdjust="spacingAndGlyphs">1.0</text>
<text class="pct" x="510.8" y="137.8" textLength="32.2" lengthAdjust="spacingAndGlyphs">1%</text>
<text class="val" x="510.8" y="164.0" textLength="24.6" lengthAdjust="spacingAndGlyphs">0.4</text>
<text class="pct" x="631.5" y="137.8" textLength="32.2" lengthAdjust="spacingAndGlyphs">1%</text>
<text class="val" x="631.5" y="164.0" textLength="22.8" lengthAdjust="spacingAndGlyphs">1.0</text>
<text class="pct" x="752.2" y="137.8" textLength="36.2" lengthAdjust="spacingAndGlyphs">0%</text>
<text class="val" x="752.2" y="164.0" textLength="22.8" lengthAdjust="spacingAndGlyphs">0.1</text>
<text class="pct" x="148.8" y="223.6" textLength="32.2" lengthAdjust="spacingAndGlyphs">1%</text>
<text class="val" x="148.8" y="249.8" textLength="24.6" lengthAdjust="spacingAndGlyphs">0.4</text>
<text class="pct" x="269.5" y="223.6" textLength="36.2" lengthAdjust="spacingAndGlyphs">3%</text>
<text class="val" x="269.5" y="249.8" textLength="24.6" lengthAdjust="spacingAndGlyphs">2.0</text>
<text class="pct" x="390.2" y="223.6" textLength="36.2" lengthAdjust="spacingAndGlyphs">5%</text>
<text class="val" x="390.2" y="249.8" textLength="24.6" lengthAdjust="spacingAndGlyphs">3.9</text>
<text class="pct" x="510.8" y="223.6" textLength="36.2" lengthAdjust="spacingAndGlyphs">5%</text>
<text class="val" x="510.8" y="249.8" textLength="24.6" lengthAdjust="spacingAndGlyphs">3.5</text>
<text class="pct" x="631.5" y="223.6" textLength="36.2" lengthAdjust="spacingAndGlyphs">2%</text>
<text class="val" x="631.5" y="249.8" textLength="22.8" lengthAdjust="spacingAndGlyphs">1.6</text>
<text class="pct" x="752.2" y="223.6" textLength="36.2" lengthAdjust="spacingAndGlyphs">0%</text>
<text class="val" x="752.2" y="249.8" textLength="24.6" lengthAdjust="spacingAndGlyphs">0.2</text>
<text class="pct" x="148.8" y="322.3" textLength="32.2" lengthAdjust="spacingAndGlyphs">1%</text>
<text class="val" x="148.8" y="348.5" textLength="24.6" lengthAdjust="spacingAndGlyphs">0.8</text>
<text class="pct" x="269.5" y="322.3" textLength="36.2" lengthAdjust="spacingAndGlyphs">5%</text>
<text class="val" x="269.5" y="348.5" textLength="24.6" lengthAdjust="spacingAndGlyphs">3.7</text>
<text class="pct" x="390.2" y="322.3" textLength="36.2" lengthAdjust="spacingAndGlyphs">9%</text>
<text class="val" x="390.2" y="348.5" textLength="24.6" lengthAdjust="spacingAndGlyphs">6.2</text>
<text class="pct" x="510.8" y="322.3" textLength="36.2" lengthAdjust="spacingAndGlyphs">8%</text>
<text class="val" x="510.8" y="348.5" textLength="24.6" lengthAdjust="spacingAndGlyphs">5.8</text>
<text class="pct" x="631.5" y="322.3" textLength="36.2" lengthAdjust="spacingAndGlyphs">6%</text>
<text class="val" x="631.5" y="348.5" textLength="24.6" lengthAdjust="spacingAndGlyphs">4.0</text>
<text class="pct" x="752.2" y="322.3" textLength="32.2" lengthAdjust="spacingAndGlyphs">1%</text>
<text class="val" x="752.2" y="348.5" textLength="24.6" lengthAdjust="spacingAndGlyphs">0.8</text>
<text class="pct" x="148.8" y="421.3" textLength="36.2" lengthAdjust="spacingAndGlyphs">0%</text>
<text class="val" x="148.8" y="447.5" textLength="24.6" lengthAdjust="spacingAndGlyphs">0.3</text>
<text class="pct" x="269.5" y="421.3" textLength="36.2" lengthAdjust="spacingAndGlyphs">7%</text>
<text class="val" x="269.5" y="447.5" textLength="24.6" lengthAdjust="spacingAndGlyphs">4.9</text>
<text class="pct" x="390.2" y="421.3" textLength="36.2" lengthAdjust="spacingAndGlyphs">9%</text>
<text class="val" x="390.2" y="447.5" textLength="24.6" lengthAdjust="spacingAndGlyphs">6.3</text>
<text class="pct" x="510.8" y="421.3" textLength="46.0" lengthAdjust="spacingAndGlyphs">10%</text>
<text class="val" x="510.8" y="447.5" textLength="24.6" lengthAdjust="spacingAndGlyphs">6.7</text>
<text class="pct" x="631.5" y="421.3" textLength="36.2" lengthAdjust="spacingAndGlyphs">5%</text>
<text class="val" x="631.5" y="447.5" textLength="24.6" lengthAdjust="spacingAndGlyphs">3.5</text>
<text class="pct" x="752.2" y="421.3" textLength="32.2" lengthAdjust="spacingAndGlyphs">1%</text>
<text class="val" x="752.2" y="447.5" textLength="24.6" lengthAdjust="spacingAndGlyphs">0.4</text>
<text class="pct" x="148.8" y="507.1" textLength="32.2" lengthAdjust="spacingAndGlyphs">1%</text>
<text class="val" x="148.8" y="533.2" textLength="24.6" lengthAdjust="spacingAndGlyphs">0.7</text>
<text class="pct" x="269.5" y="507.1" textLength="36.2" lengthAdjust="spacingAndGlyphs">4%</text>
<text class="val" x="269.5" y="533.2" textLength="24.6" lengthAdjust="spacingAndGlyphs">2.6</text>
<text class="pct" x="390.2" y="507.1" textLength="36.2" lengthAdjust="spacingAndGlyphs">4%</text>
<text class="val" x="390.2" y="533.2" textLength="24.6" lengthAdjust="spacingAndGlyphs">2.7</text>
<text class="pct" x="510.8" y="507.1" textLength="36.2" lengthAdjust="spacingAndGlyphs">5%</text>
<text class="val" x="510.8" y="533.2" textLength="24.6" lengthAdjust="spacingAndGlyphs">3.4</text>
<text class="pct" x="631.5" y="507.1" textLength="36.2" lengthAdjust="spacingAndGlyphs">4%</text>
<text class="val" x="631.5" y="533.2" textLength="24.6" lengthAdjust="spacingAndGlyphs">2.9</text>
<text class="pct" x="752.2" y="507.1" textLength="32.2" lengthAdjust="spacingAndGlyphs">1%</text>
<text class="val" x="752.2" y="533.2" textLength="24.6" lengthAdjust="spacingAndGlyphs">0.5</text>
</g>
<text x="102" y="38.5" font-size="27" font-weight="700" fill="#161616" textLength="343" lengthAdjust="spacingAndGlyphs">Mamadou Sangaré Touches</text>
<text x="103" y="63" font-size="14" fill="#333" textLength="187" lengthAdjust="spacingAndGlyphs">Lens | French Ligue 1 2025-26</text>

<g id="crest">
<path d="M30 14.5 Q49.8 10.5 69.6 14.5 L69.6 38 Q69.6 54 49.8 65 Q30 54 30 38 Z" fill="#f6c90e"/>
<path d="M30 14.5 L30 38 Q30 54 49.8 65 L56.8 59.5 L44.6 21 L30 21 Z" fill="#c4161c"/>
<path d="M44.4 21 L56.6 59.8" stroke="#6b1a14" stroke-width="1" fill="none"/>
<path d="M30.6 15 Q49.8 11 69 15 L69 22 L30.6 22 Z" fill="#e9e9e4"/>
<path d="M30.4 22 L69.2 22" stroke="#7a3a2a" stroke-width="0.8"/>
<path d="M30 14.5 Q49.8 10.5 69.6 14.5 L69.6 38 Q69.6 54 49.8 65 Q30 54 30 38 Z" fill="none" stroke="#a3231c" stroke-width="1.4"/>
<path d="M30 21 L30 14.5 Q49.8 10.5 69.6 14.5 L69.6 21" fill="none" stroke="#5a5a5a" stroke-width="1.4"/>
<text x="49.8" y="20.4" font-size="4.6" font-weight="700" fill="#2a2a3a" text-anchor="middle" textLength="34" lengthAdjust="spacingAndGlyphs">RACING CLUB DE LENS</text>
<text x="38.8" y="35" font-size="12.5" font-weight="700" fill="#fff" stroke="#fff" stroke-width="0.5" text-anchor="middle">R</text>
<text x="42.4" y="47.2" font-size="12.5" font-weight="700" fill="#fff" stroke="#fff" stroke-width="0.5" text-anchor="middle">C</text>
<text x="48.6" y="58.8" font-size="12.5" font-weight="700" fill="#fff" stroke="#fff" stroke-width="0.5" text-anchor="middle">L</text>
<path d="M51.5 33 Q58.3 28 65.5 33 Q62 36 58.3 36 Q54.5 36 51.5 33Z" fill="#b9a24a" opacity="0.8"/>
<rect x="56" y="27.5" width="4.8" height="15.5" rx="1" fill="#23233f"/>
<rect x="54.6" y="40" width="7.6" height="3.4" rx="0.8" fill="#23233f"/>
<rect x="56.8" y="31" width="3.2" height="6" fill="#d8d6c0" opacity="0.75"/>
</g>
<defs>
<linearGradient id="og1" gradientUnits="userSpaceOnUse" x1="743" y1="22" x2="768" y2="58"><stop offset="0" stop-color="#a418ad"/><stop offset="1" stop-color="#e5264f"/></linearGradient>
<linearGradient id="og2" gradientUnits="userSpaceOnUse" x1="758" y1="28" x2="785" y2="48"><stop offset="0" stop-color="#fba21a"/><stop offset="1" stop-color="#f26722"/></linearGradient>
<clipPath id="oc1"><polygon points="730,5 771.3,5 766.3,23.4 755.9,52.7 752.4,68 730,68"/></clipPath>
<clipPath id="oc2"><polygon points="797.3,71.6 756,71.6 761,53.2 771.4,23.9 774.9,8.6 797.3,8.6"/></clipPath>
<path id="oring" fill-rule="evenodd" d="M756.1 12 H771.2 A14 14 0 0 1 785.2 26 V50.6 A14 14 0 0 1 771.2 64.6 H756.1 A14 14 0 0 1 742.1 50.6 V26 A14 14 0 0 1 756.1 12 Z M758.4 23.4 A5 5 0 0 0 753.4 28.4 V47.7 A5 5 0 0 0 758.4 52.7 H768.2 A5 5 0 0 0 773.2 47.7 V28.4 A5 5 0 0 0 768.2 23.4 Z"/>
</defs>
<g id="opta">
<use href="#oring" fill="url(#og1)" clip-path="url(#oc1)"/>
<use href="#oring" fill="url(#og2)" clip-path="url(#oc2)"/>
<text x="799.2" y="51.8" font-size="38" font-weight="700" fill="#1d1d1b" stroke="#1d1d1b" stroke-width="0.7" textLength="78.6" lengthAdjust="spacingAndGlyphs">Opta</text>
</g>
<text x="233.5" y="603" font-size="16.5" font-weight="700" fill="#161616" text-anchor="middle" textLength="108" lengthAdjust="spacingAndGlyphs">% of touches</text>
<text x="233.3" y="624.6" font-size="15" fill="#333" text-anchor="middle" textLength="102.5" lengthAdjust="spacingAndGlyphs">touches per 90</text>
<g fill="#a9a9a9"><path d="M403.4 588.7 L418 597.6 L403.4 606.5Z"/><path d="M432.3 588.7 L446.9 597.6 L432.3 606.5Z"/><path d="M461.2 588.7 L475.8 597.6 L461.2 606.5Z"/><path d="M490 588.7 L504.6 597.6 L490 606.5Z"/></g>
<text x="450.7" y="625.4" font-size="10.5" fill="#333" text-anchor="middle" textLength="90.4" lengthAdjust="spacingAndGlyphs">Attacking Direction</text>

</svg></body></html>
